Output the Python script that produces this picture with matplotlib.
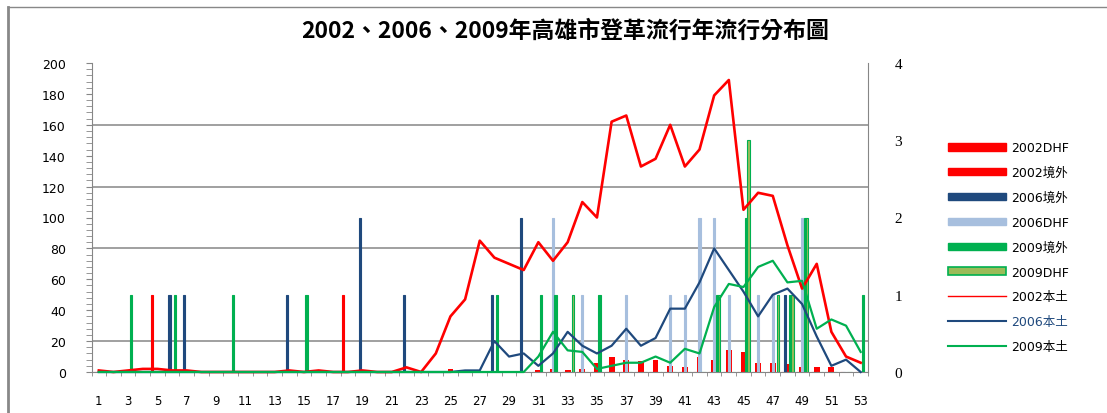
"""
Weekly dengue cases in Kaohsiung for the 2002, 2006 and 2009 epidemic years.
Local cases are drawn as lines on the left axis, imported and DHF cases as
columns (2002 DHF on the left axis, the rest on the right axis).
"""

import matplotlib.pyplot as plt
import numpy as np
from matplotlib.lines import Line2D
from matplotlib.patches import Patch

plt.rcParams["font.family"] = ["DejaVu Sans", "Noto Sans CJK TC"]

TITLE = "2002、2006、2009年高雄市登革流行年流行分布圖"

weeks = list(range(1, 54))

# 本土 (local) cases per week
local_2002 = [1, 0, 1, 2, 2, 1, 1, 0, 0, 0, 0, 0, 0, 1, 0, 1, 0, 0, 1, 0,
              0, 3, 0, 12, 36, 47, 85, 74, 70, 66, 84, 72, 84, 110, 100, 162,
              166, 133, 138, 160, 133, 144, 179, 189, 105, 116, 114, 82, 54,
              70, 26, 10, 6]
local_2006 = [0] * 25 + [1, 1, 20, 10, 12, 4, 12, 26, 17, 12, 17, 28, 17, 22,
                         41, 41, 58, 80, 66, 52, 36, 50, 54, 44, 23, 4, 8, 0]
local_2009 = [0] * 30 + [10, 26, 14, 13, 2, 4, 6, 6, 10, 6, 15, 12, 42, 57, 55,
                         68, 72, 58, 59, 28, 34, 30, 13]

# 2002 DHF, on the left axis
dhf_2002 = {25: 2, 31: 1, 32: 2, 33: 1, 34: 2, 35: 6, 36: 10, 37: 8, 38: 7,
            39: 8, 40: 4, 41: 3, 42: 10, 43: 8, 44: 14, 45: 13, 46: 6, 47: 6,
            48: 5, 49: 3, 50: 3, 51: 3}

# right-axis columns, by week
imported_2002 = {5: 1, 18: 1}
imported_2006 = {6: 1, 7: 1, 14: 1, 19: 2, 22: 1, 28: 1, 30: 2, 48: 1}
dhf_2006 = {32: 2, 34: 1, 37: 1, 40: 1, 41: 1, 42: 2, 43: 2, 44: 1, 46: 1,
            47: 1, 49: 2}
imported_2009 = {3: 1, 6: 1, 10: 1, 15: 1, 28: 1, 31: 1, 32: 1, 35: 1, 43: 1,
                 45: 2, 48: 1, 49: 2, 53: 1}
dhf_2009 = {33: 1, 43: 1, 45: 3, 47: 1, 48: 1, 49: 2}

GRID_VALUES = [20, 80, 120, 160]

RED = "#FF0000"
NAVY = "#1F497D"
LIGHT_BLUE = "#A7BFDE"
GREEN = "#00B050"
OLIVE = "#9BBB59"
AXIS_GRAY = "#868686"


def weekly(counts):
    return np.array([counts.get(w, 0) for w in weeks])


def main():
    fig = plt.figure(figsize=(11.07, 4.14), dpi=100)
    x = np.array(weeks)

    ax1 = fig.add_axes([91.5 / 1107, 1 - 373 / 414, 776.5 / 1107, 309 / 414])
    ax2 = ax1.twinx()
    ax3 = ax1.twinx()  # lines on top of every column

    # primary columns
    ax1.bar(x, weekly(dhf_2002), width=0.4, color=RED, zorder=2)
    for v in GRID_VALUES:
        ax1.axhline(v, color=AXIS_GRAY, lw=1.1, zorder=1)

    # secondary columns, clustered
    w = 1 / 5.8
    series2 = [
        (imported_2002, RED, RED),
        (imported_2006, NAVY, NAVY),
        (dhf_2006, LIGHT_BLUE, LIGHT_BLUE),
        (imported_2009, GREEN, GREEN),
        (dhf_2009, OLIVE, GREEN),
    ]
    for i, (data, fc, ec) in enumerate(series2):
        ax2.bar(x + (i - 2) * w, weekly(data), width=w * 0.85, color=fc,
                edgecolor=ec, linewidth=0.8)

    ax3.plot(x, local_2002, color=RED, lw=1.9, clip_on=False)
    ax3.plot(x, local_2006, color=NAVY, lw=1.6, clip_on=False)
    ax3.plot(x, local_2009, color=GREEN, lw=1.6, clip_on=False)

    for ax in (ax1, ax2, ax3):
        ax.set_xlim(0.5, 53.5)
        ax.patch.set_visible(False)
        for s in ax.spines.values():
            s.set_visible(False)
    ax1.set_ylim(0, 200)
    ax3.set_ylim(0, 200)
    ax2.set_ylim(0, 4)
    ax3.set_yticks([])

    ax1.spines["left"].set_visible(True)
    ax1.spines["left"].set_color(AXIS_GRAY)
    ax1.spines["bottom"].set_visible(True)
    ax1.spines["bottom"].set_color(AXIS_GRAY)
    ax2.spines["right"].set_visible(True)
    ax2.spines["right"].set_color(AXIS_GRAY)

    ax1.set_yticks(range(0, 201, 20))
    ax1.set_yticks(range(0, 201, 4), minor=True)
    ax1.tick_params(axis="y", which="both", length=4.5, color=AXIS_GRAY,
                    labelsize=9, pad=14)
    ax1.set_xticks(range(1, 54, 2))
    ax1.set_xticks(np.arange(0.5, 54, 1), minor=True)
    ax1.tick_params(axis="x", which="major", length=0, labelsize=8.5, pad=16)
    ax1.tick_params(axis="x", which="minor", length=3, color=AXIS_GRAY)

    ax2.set_yticks(range(0, 5))
    ax2.tick_params(axis="y", length=0, pad=19)
    for lab in ax2.get_yticklabels():
        lab.set_fontfamily("Liberation Serif")
        lab.set_fontsize(11)
    ax3.tick_params(axis="x", bottom=False, labelbottom=False)
    ax2.tick_params(axis="x", bottom=False, labelbottom=False)

    fig.text(565 / 1107, 1 - 31 / 414, TITLE, ha="center", va="center",
             fontsize=16.5, fontweight="bold", family=["Noto Sans CJK TC"])

    # frame around the chart area
    fig.add_artist(Line2D([8 / 1107, 8 / 1107], [0, 1 - 8 / 414],
                          color="#888888", lw=2))
    fig.add_artist(Line2D([8 / 1107, 1], [1 - 8 / 414, 1 - 8 / 414],
                          color="#888888", lw=1))

    handles = [
        Patch(color=RED), Patch(color=RED), Patch(color=NAVY),
        Patch(color=LIGHT_BLUE), Patch(color=GREEN),
        Patch(facecolor=OLIVE, edgecolor=GREEN, lw=1.2),
        Line2D([], [], color=RED, lw=1), Line2D([], [], color=NAVY, lw=1.5),
        Line2D([], [], color=GREEN, lw=1.5),
    ]
    labels = ["2002DHF", "2002境外", "2006境外", "2006DHF", "2009境外",
              "2009DHF", "2002本土", "2006本土", "2009本土"]
    leg = fig.legend(handles, labels, loc="upper left",
                     bbox_to_anchor=(937 / 1107, 1 - 131 / 414),
                     frameon=False, fontsize=9, handlelength=4.6,
                     handleheight=0.55, labelspacing=0.95, handletextpad=0.45)
    leg.get_texts()[7].set_color(NAVY)

    fig.savefig("out.png", dpi=100)
    plt.close(fig)


if __name__ == "__main__":
    main()
